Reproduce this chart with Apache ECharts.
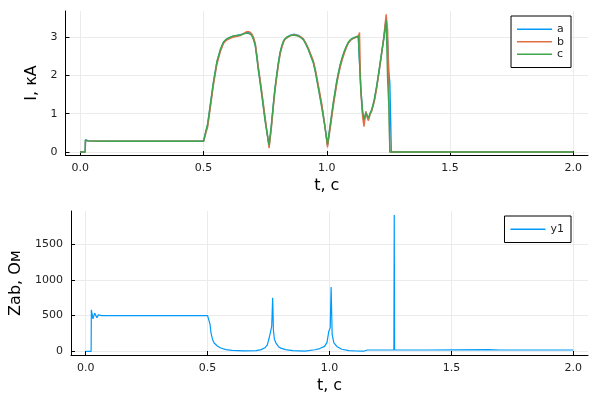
<!DOCTYPE html>
<html>
<head>
<meta charset="utf-8">
<script src="https://cdn.jsdelivr.net/npm/echarts@6/dist/echarts.min.js"></script>
<style>html,body{margin:0;padding:0;background:#fff;}#c{width:600px;height:400px;}</style>
</head>
<body>
<div id="c"></div>
<script>
// ---------- data ----------
const tTop = [0, 0.02, 0.021, 0.027, 0.033, 0.04, 0.1, 0.5, 0.508, 0.517,
  0.527, 0.54, 0.554, 0.568, 0.581, 0.59, 0.6, 0.61, 0.622, 0.636,
  0.65, 0.663, 0.675, 0.685, 0.695, 0.703, 0.71, 0.716, 0.722, 0.729,
  0.736, 0.743, 0.75, 0.758, 0.766, 0.775, 0.784, 0.79, 0.797, 0.804,
  0.811, 0.818, 0.825, 0.831, 0.838, 0.85, 0.865, 0.875, 0.885, 0.895,
  0.905, 0.915, 0.925, 0.935, 0.946, 0.955, 0.963, 0.971, 0.98, 0.992,
  1.003, 1.015, 1.027, 1.04, 1.047, 1.054, 1.062, 1.07, 1.079, 1.088,
  1.098, 1.108, 1.118, 1.128, 1.133, 1.138, 1.145, 1.151, 1.159, 1.164,
  1.169, 1.176, 1.183, 1.193, 1.203, 1.213, 1.223, 1.232, 1.241, 1.247,
  1.252, 1.256, 1.262, 1.27, 2.0];
const seriesA = [0, 0, 0.32, 0.27, 0.29, 0.28, 0.28, 0.28, 0.32, 0.72,
  1.19, 1.80, 2.34, 2.66, 2.87, 2.93, 2.97, 3.00, 3.03, 3.05,
  3.07, 3.10, 3.12, 3.12, 3.08, 2.96, 2.80, 2.52, 2.20, 1.88,
  1.55, 1.20, 0.85, 0.50, 0.16, 0.65, 1.28, 1.65, 2.00, 2.33,
  2.60, 2.77, 2.90, 2.96, 3.00, 3.05, 3.08, 3.07, 3.05, 3.01,
  2.95, 2.84, 2.70, 2.53, 2.34, 2.08, 1.80, 1.52, 1.20, 0.70,
  0.18, 0.72, 1.28, 1.80, 2.04, 2.25, 2.44, 2.60, 2.75, 2.87,
  2.94, 2.98, 3.00, 3.02, 3.04, 1.70, 1.05, 0.80, 1.05, 0.95,
  0.86, 1.00, 1.10, 1.35, 1.72, 2.15, 2.60, 3.00, 3.50, 2.90,
  2.10, 1.80, 0, 0, 0];
const seriesB = [0, 0, 0.31, 0.28, 0.29, 0.28, 0.28, 0.28, 0.30, 0.66,
  1.12, 1.74, 2.28, 2.62, 2.84, 2.91, 2.95, 2.98, 3.01, 3.03,
  3.05, 3.10, 3.15, 3.15, 3.10, 3.00, 2.85, 2.57, 2.25, 1.93,
  1.60, 1.25, 0.90, 0.50, 0.10, 0.60, 1.22, 1.60, 1.95, 2.28,
  2.56, 2.74, 2.88, 2.95, 2.99, 3.04, 3.07, 3.06, 3.04, 3.01,
  2.96, 2.85, 2.72, 2.56, 2.38, 2.12, 1.85, 1.57, 1.25, 0.70,
  0.12, 0.65, 1.22, 1.75, 1.99, 2.20, 2.40, 2.56, 2.72, 2.85,
  2.93, 2.97, 3.00, 3.03, 3.13, 1.60, 0.95, 0.66, 1.06, 0.90,
  0.82, 0.98, 1.08, 1.32, 1.68, 2.12, 2.58, 3.05, 3.60, 3.20,
  1.50, 0, 0, 0, 0];
const seriesC = [0, 0, 0.30, 0.27, 0.29, 0.28, 0.28, 0.28, 0.33, 0.75,
  1.22, 1.83, 2.36, 2.68, 2.88, 2.94, 2.98, 3.01, 3.04, 3.05,
  3.06, 3.09, 3.11, 3.10, 3.06, 2.94, 2.78, 2.48, 2.16, 1.84,
  1.50, 1.15, 0.80, 0.48, 0.18, 0.70, 1.30, 1.68, 2.02, 2.35,
  2.62, 2.79, 2.92, 2.97, 3.01, 3.04, 3.06, 3.05, 3.03, 2.99,
  2.94, 2.82, 2.68, 2.51, 2.32, 2.05, 1.76, 1.48, 1.15, 0.68,
  0.20, 0.76, 1.32, 1.84, 2.07, 2.28, 2.46, 2.62, 2.76, 2.88,
  2.95, 2.99, 3.01, 3.04, 3.05, 1.65, 1.10, 0.85, 1.02, 1.00,
  0.88, 1.02, 1.12, 1.38, 1.75, 2.18, 2.62, 2.98, 3.45, 1.90,
  1.20, 0, 0, 0, 0];

const tBot = [0, 0.0225, 0.0235, 0.03, 0.037, 0.046, 0.052, 0.058, 0.065, 0.5,
  0.507, 0.51, 0.514, 0.52, 0.527, 0.54, 0.554, 0.575, 0.6, 0.65,
  0.7, 0.72, 0.735, 0.745, 0.752, 0.758, 0.763, 0.767, 0.77, 0.774,
  0.78, 0.79, 0.8, 0.82, 0.85, 0.9, 0.94, 0.96, 0.98, 0.99,
  0.997, 1.003, 1.0066, 1.011, 1.018, 1.03, 1.05, 1.08, 1.11, 1.14,
  1.148, 1.155, 1.2, 1.264, 1.2655, 1.267, 1.4, 1.65, 1.7, 2.0];
const zab = [0, 0, 580, 455, 535, 470, 510, 490, 500, 500,
  490, 380, 260, 170, 118, 75, 47, 25, 14, 8,
  12, 25, 50, 90, 180, 270, 350, 750, 300, 170,
  120, 70, 45, 25, 12, 5, 23, 40, 70, 130,
  280, 330, 900, 230, 120, 70, 30, 12, 6, 3,
  30, 20, 20, 20, 1905, 20, 20, 24, 20, 20];

const xTicks = [0, 0.5, 1, 1.5, 2];
const yTopTicks = [0, 1, 2, 3];
const yBotTicks = [0, 500, 1000, 1500];
const namesTop = ['a', 'b', 'c'];
const nameBot = 'y1';

// ---------- chart ----------
const FONT = 'DejaVu Sans';
const colors = ['#009AFA', '#E36F47', '#3EA44E'];
const zip = (t, v) => t.map((x, i) => [x, v[i]]);

function xAxis(gi) {
  return {
    type: 'value', gridIndex: gi, min: -0.06, max: 2.06,
    name: 't, с', nameLocation: 'middle', nameGap: 23,
    nameTextStyle: {fontFamily: FONT, fontSize: 16, color: '#000'},
    axisLine: {show: true, onZero: false, lineStyle: {color: '#000', width: 1}},
    axisTick: {show: true, inside: true, length: 4, customValues: xTicks, lineStyle: {color: '#000'}},
    axisLabel: {customValues: xTicks, fontFamily: FONT, fontSize: 11, color: '#222', margin: 8,
      formatter: v => v.toFixed(1)},
    splitLine: {show: true, lineStyle: {color: '#ebebeb', width: 1}}
  };
}
function yAxis(gi, min, max, ticks, name, gap) {
  return {
    type: 'value', gridIndex: gi, min: min, max: max,
    name: name, nameLocation: 'middle', nameGap: gap,
    nameTextStyle: {fontFamily: FONT, fontSize: 16, color: '#000'},
    axisLine: {show: true, onZero: false, lineStyle: {color: '#000', width: 1}},
    axisTick: {show: true, inside: true, length: 4, customValues: ticks, lineStyle: {color: '#000'}},
    axisLabel: {customValues: ticks, fontFamily: FONT, fontSize: 11, color: '#222', margin: 8,
      formatter: v => String(v)},
    splitLine: {show: true, lineStyle: {color: '#ebebeb', width: 1}}
  };
}
function legend(data, top) {
  return {
    data: data, orient: 'vertical', right: 29, top: top,
    icon: 'rect', itemWidth: 35, itemHeight: 1.5, itemGap: 0,
    padding: [7, 7, 7, 6],
    borderColor: '#000', borderWidth: 1, backgroundColor: '#fff',
    textStyle: {fontFamily: FONT, fontSize: 11, color: '#222', lineHeight: 12.5}
  };
}

const chart = echarts.init(document.getElementById('c'), null, {renderer: 'canvas'});
chart.setOption({
  animation: false,
  backgroundColor: '#fff',
  color: colors,
  grid: [
    {left: 65.5, right: 12, top: 11, height: 144},
    {left: 65.5, right: 12, top: 211, height: 144}
  ],
  xAxis: [xAxis(0), xAxis(1)],
  yAxis: [
    yAxis(0, -0.08, 3.69, yTopTicks, 'I, кА', 24),
    yAxis(1, -50, 1960, yBotTicks, 'Zab, Ом', 47)
  ],
  legend: [legend(namesTop, 16), legend([nameBot], 216)],
  series: [
    {name: namesTop[0], type: 'line', xAxisIndex: 0, yAxisIndex: 0, data: zip(tTop, seriesA),
      showSymbol: false, lineStyle: {width: 1.4, color: colors[0]}, itemStyle: {color: colors[0]}},
    {name: namesTop[1], type: 'line', xAxisIndex: 0, yAxisIndex: 0, data: zip(tTop, seriesB),
      showSymbol: false, lineStyle: {width: 1.4, color: colors[1]}, itemStyle: {color: colors[1]}},
    {name: namesTop[2], type: 'line', xAxisIndex: 0, yAxisIndex: 0, data: zip(tTop, seriesC),
      showSymbol: false, lineStyle: {width: 1.4, color: colors[2]}, itemStyle: {color: colors[2]}},
    {name: nameBot, type: 'line', xAxisIndex: 1, yAxisIndex: 1, data: zip(tBot, zab),
      showSymbol: false, lineStyle: {width: 1.2, color: colors[0]}, itemStyle: {color: colors[0]}}
  ]
});
</script>
</body>
</html>
